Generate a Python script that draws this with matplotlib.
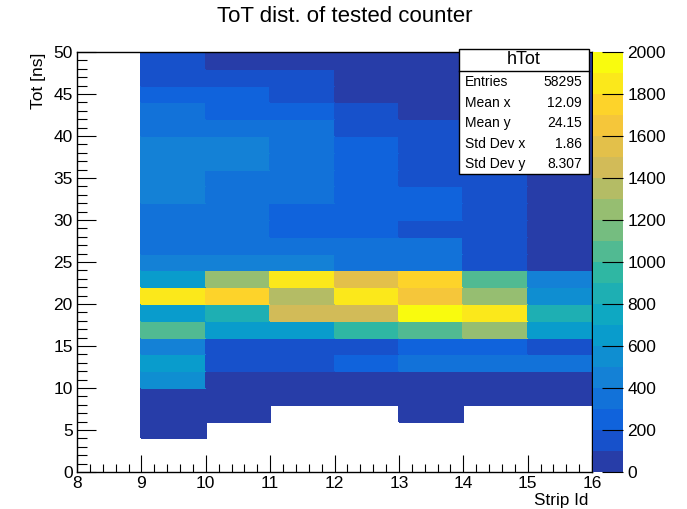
import numpy as np
import matplotlib
matplotlib.use("Agg")
import matplotlib.pyplot as plt
from matplotlib.colors import LinearSegmentedColormap, ListedColormap, BoundaryNorm
from matplotlib.patches import Rectangle
from matplotlib.ticker import MultipleLocator

plt.rcParams['font.family'] = ['Liberation Sans', 'DejaVu Sans']

# histogram binning
strip_edges = np.arange(8, 17, 1)        # 8 bins, first one empty
tot_edges = np.arange(0, 52, 2)          # 25 bins of 2 ns

# counts per (ToT row, strip column), rows from ToT 0-2 up to 48-50,
# columns strip 8..15 (lower edge)
counts = np.array([
    #  8    9     10    11    12    13    14    15
    [0,    0,    0,    0,    0,    0,    0,    0],   # 0-2
    [0,    0,    0,    0,    0,    0,    0,    0],   # 2-4
    [0,   50,    0,    0,    0,    0,    0,    0],   # 4-6
    [0,   50,   50,    0,    0,   50,    0,    0],   # 6-8
    [0,   50,   50,   50,   50,   50,   50,   50],   # 8-10
    [0,  550,   50,   50,   50,   50,   50,   50],   # 10-12
    [0,  650,  150,  150,  250,  350,  350,  350],   # 12-14
    [0,  450,  150,  150,  150,  250,  250,  150],   # 14-16
    [0, 1050,  650,  650,  950, 1050, 1250,  650],   # 16-18
    [0,  650,  850, 1450, 1450, 1950, 1850,  850],   # 18-20
    [0, 1850, 1750, 1350, 1850, 1650, 1250,  550],   # 20-22
    [0,  650, 1250, 1850, 1550, 1750, 1050,  450],   # 22-24
    [0,  450,  450,  450,  350,  350,  150,   50],   # 24-26
    [0,  350,  350,  350,  350,  350,  150,   50],   # 26-28
    [0,  350,  350,  250,  250,  150,  150,   50],   # 28-30
    [0,  350,  350,  250,  250,  250,  150,   50],   # 30-32
    [0,  450,  350,  350,  250,  250,  150,   50],   # 32-34
    [0,  450,  350,  350,  250,  150,  150,   50],   # 34-36
    [0,  450,  450,  350,  250,  150,   50,   50],   # 36-38
    [0,  450,  450,  350,  250,  150,   50,   50],   # 38-40
    [0,  350,  350,  350,  150,  150,   50,   50],   # 40-42
    [0,  350,  250,  250,  150,   50,   50,   50],   # 42-44
    [0,  250,  250,  150,   50,   50,   50,   50],   # 44-46
    [0,  150,  150,  150,   50,   50,   50,   50],   # 46-48
    [0,  150,   50,   50,   50,   50,   50,   50],   # 48-50
], dtype=float)

stat_labels = ["Entries", "Mean x", "Mean y", "Std Dev x", "Std Dev y"]
stat_values = ["58295", "12.09", "24.15", "1.86", "8.307"]
cbar_ticks = np.arange(0, 2001, 200)
levels = np.arange(0, 2001, 100)

# ROOT kBird palette
stops = [0.0, 0.125, 0.25, 0.375, 0.5, 0.625, 0.75, 0.875, 1.0]
red = [0.2082, 0.0592, 0.0780, 0.0232, 0.1802, 0.5301, 0.8186, 0.9956, 0.9764]
green = [0.1664, 0.3599, 0.5041, 0.6419, 0.7178, 0.7492, 0.7328, 0.7862, 0.9832]
blue = [0.5293, 0.8684, 0.8385, 0.7914, 0.6425, 0.4662, 0.3499, 0.1968, 0.0539]
bird = LinearSegmentedColormap.from_list(
    "bird", list(zip(stops, zip(red, green, blue))))
n_lev = len(levels) - 1
cmap = ListedColormap([bird((k + 1) / n_lev) for k in range(n_lev)])
norm = BoundaryNorm(levels, cmap.N)

W, H = 687, 509
fig = plt.figure(figsize=(W / 100, H / 100), dpi=100)


def fx(px):
    return px / W


def fy(py):
    return 1 - py / H


ax = fig.add_axes([fx(77), fy(472), fx(592) - fx(77), fy(52) - fy(472)])
data = np.ma.masked_where(counts <= 0, counts)
ax.pcolormesh(strip_edges, tot_edges, data, cmap=cmap, norm=norm,
              edgecolors='face', linewidth=0.3)
ax.set_xlim(8, 16)
ax.set_ylim(0, 50)
ax.xaxis.set_major_locator(MultipleLocator(1))
ax.xaxis.set_minor_locator(MultipleLocator(0.2))
ax.yaxis.set_major_locator(MultipleLocator(5))
ax.yaxis.set_minor_locator(MultipleLocator(1))
ax.tick_params(which='both', direction='in', top=False, right=False,
               labelsize=12.5, colors='black', width=0.8)
ax.tick_params(axis='x', which='major', length=12, pad=3)
ax.tick_params(axis='x', which='minor', length=6)
ax.tick_params(axis='y', which='major', length=14, pad=3)
ax.tick_params(axis='y', which='minor', length=7)
for s in ax.spines.values():
    s.set_linewidth(1.0)

fig.text(fx(38), fy(53), "Tot [ns]", rotation=90, ha='center', va='top',
         fontsize=12.5)
fig.text(fx(588), fy(501), "Strip Id", ha='right', va='center', fontsize=12.3)
fig.text(fx(345), fy(16), "ToT dist. of tested counter", ha='center',
         va='center', fontsize=16)

# palette
cax = fig.add_axes([fx(593), fy(472), fx(623) - fx(593), fy(52) - fy(472)])
cb = fig.colorbar(plt.cm.ScalarMappable(norm=norm, cmap=cmap), cax=cax,
                  ticks=cbar_ticks)
cb.outline.set_visible(False)
cb.minorticks_off()
cax.tick_params(direction='in', length=15, width=0.8, labelsize=12.5, pad=3)

# stats box
box_l, box_r, box_t, box_b = 459, 589, 49, 174
fig.patches.append(Rectangle((fx(box_l), fy(box_b)), fx(box_r) - fx(box_l),
                             fy(box_t) - fy(box_b), transform=fig.transFigure,
                             facecolor='white', edgecolor='black',
                             linewidth=1.0, zorder=5))
fig.lines.append(plt.Line2D([fx(box_l), fx(box_r)], [fy(71), fy(71)],
                            transform=fig.transFigure, color='black',
                            linewidth=1.0, zorder=6))
fig.text(fx((box_l + box_r) / 2), fy(60), "hTot", ha='center', va='center',
         fontsize=13, zorder=7)
row_y = [82, 103, 123, 144, 164]
for lab, val, yy in zip(stat_labels, stat_values, row_y):
    fig.text(fx(465), fy(yy), lab, ha='left', va='center', fontsize=10,
             zorder=7)
    fig.text(fx(582), fy(yy), val, ha='right', va='center', fontsize=10,
             zorder=7)

fig.savefig("out.png", dpi=100)
